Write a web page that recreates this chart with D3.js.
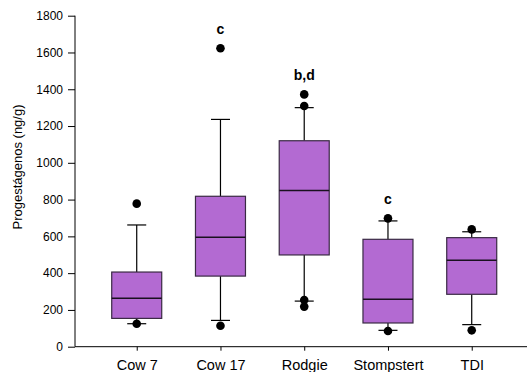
<!DOCTYPE html>
<html><head><meta charset="utf-8">
<script src="https://cdn.jsdelivr.net/npm/d3@7"></script>
<style>body{margin:0;background:#fff}svg{display:block}</style>
</head><body>
<script>
const categories = ["Cow 7", "Cow 17", "Rodgie", "Stompstert", "TDI"];
const q1 = [154, 384, 499, 129, 285];
const median = [263, 595, 850, 258, 470];
const q3 = [406, 818, 1120, 584, 593];
const whiskerLow = [125, 143, 248, 89, 120];
const whiskerHigh = [662, 1236, 1300, 684, 625];
const outliers = [[778, 125], [1623, 114], [1372, 1309, 254, 218], [698, 85], [638, 89]];
const letters = ["", "c", "b,d", "c", ""];
const yTicks = [0, 200, 400, 600, 800, 1000, 1200, 1400, 1600, 1800];

const W = 528, H = 372;
const svg = d3.select("body").append("svg").attr("width", W).attr("height", H);
const font = "Arial, 'Liberation Sans', sans-serif";

const y = d3.scaleLinear().domain([0, 1800]).range([346.7, 15.7]);
const x = d3.scaleLinear().domain([0.263, 5.66]).range([75, 527]);
const boxW = 50, capW = 19;

// y axis
const yAxis = svg.append("g").attr("transform", "translate(75,0)")
  .call(d3.axisLeft(y).tickValues(yTicks).tickSize(7).tickPadding(5).tickFormat(d3.format("d")));
yAxis.selectAll("text").attr("font-family", font).attr("font-size", 12).attr("fill", "#000");
yAxis.selectAll("line,path").attr("stroke", "#000");
yAxis.select("path").attr("d", `M0,${y(1800)}V${y(0)}`);

// x axis
const xAxis = svg.append("g").attr("transform", `translate(0,${y(0)})`)
  .call(d3.axisBottom(x).tickValues([1,2,3,4,5]).tickSize(4).tickPadding(9).tickFormat((d) => categories[d-1]));
xAxis.selectAll("text").attr("font-family", font).attr("font-size", 14.5).attr("fill", "#000");
xAxis.selectAll("line,path").attr("stroke", "#000");
xAxis.select("path").attr("d", `M75,0H527`);

const g = svg.append("g");
categories.forEach((c, i) => {
  const cx = x(i + 1);
  // whiskers
  g.append("line").attr("x1", cx).attr("x2", cx).attr("y1", y(q3[i])).attr("y2", y(whiskerHigh[i])).attr("stroke", "#000").attr("stroke-width", 1.2);
  g.append("line").attr("x1", cx).attr("x2", cx).attr("y1", y(q1[i])).attr("y2", y(whiskerLow[i])).attr("stroke", "#000").attr("stroke-width", 1.2);
  g.append("line").attr("x1", cx - capW/2).attr("x2", cx + capW/2).attr("y1", y(whiskerHigh[i])).attr("y2", y(whiskerHigh[i])).attr("stroke", "#000").attr("stroke-width", 1.2);
  g.append("line").attr("x1", cx - capW/2).attr("x2", cx + capW/2).attr("y1", y(whiskerLow[i])).attr("y2", y(whiskerLow[i])).attr("stroke", "#000").attr("stroke-width", 1.2);
  // box
  g.append("rect").attr("x", cx - boxW/2).attr("y", y(q3[i])).attr("width", boxW).attr("height", y(q1[i]) - y(q3[i]))
    .attr("fill", "#b36ad2").attr("stroke", "#3a2a44").attr("stroke-width", 1.2);
  g.append("line").attr("x1", cx - boxW/2).attr("x2", cx + boxW/2).attr("y1", y(median[i])).attr("y2", y(median[i])).attr("stroke", "#1a1020").attr("stroke-width", 1.5);
  // outliers
  outliers[i].forEach(v => {
    g.append("circle").attr("cx", cx).attr("cy", y(v)).attr("r", 4.3).attr("fill", "#000");
  });
  if (letters[i]) {
    const top = d3.max(outliers[i].concat([whiskerHigh[i]]));
    g.append("text").attr("x", cx).attr("y", y(top) - 14).attr("text-anchor", "middle")
      .attr("font-family", font).attr("font-size", 14).attr("font-weight", "bold").text(letters[i]);
  }
});

svg.append("text").attr("transform", "translate(21.5,167) rotate(-90)").attr("text-anchor", "middle")
  .attr("font-family", font).attr("font-size", 13).text("Progestágenos (ng/g)");
</script>
</body></html>
